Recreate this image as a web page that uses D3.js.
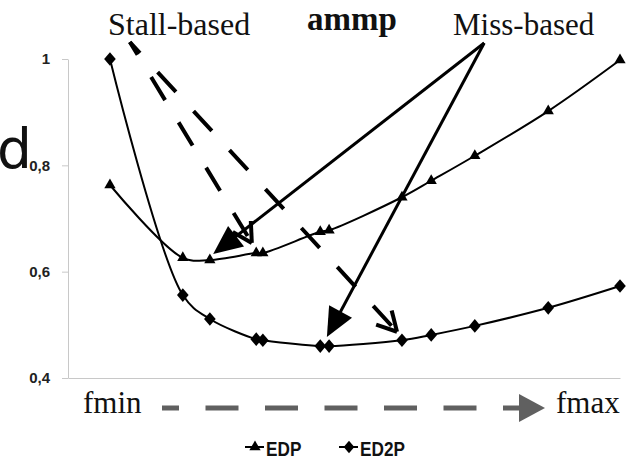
<!DOCTYPE html>
<html><head><meta charset="utf-8">
<script src="https://cdn.jsdelivr.net/npm/d3@7"></script>
<style>html,body{margin:0;padding:0;background:#fff;overflow:hidden}</style>
</head><body>
<svg id="c" width="636" height="459"></svg>
<script>
// ---- data ----
const freq = [0.076, 0.208, 0.257, 0.341, 0.353, 0.457, 0.473, 0.605, 0.658, 0.737, 0.870, 1.0]; // normalized frequency (fmin -> fmax)
const edp  = [0.763, 0.626, 0.622, 0.635, 0.635, 0.675, 0.678, 0.740, 0.771, 0.818, 0.902, 0.998];
const ed2p = [1.000, 0.556, 0.511, 0.473, 0.471, 0.460, 0.460, 0.471, 0.481, 0.498, 0.532, 0.573];
const yTicks = [0.4, 0.6, 0.8, 1];
const seriesNames = ["EDP", "ED2P"];
// annotation anchors in data units [freq, value]
const stallFrom = [0.112, 1.032];
const stallTo = [[0.333, 0.654], [0.596, 0.487]];
const missFrom = [0.754, 1.030];
const missTo = [[0.263, 0.633], [0.469, 0.477]];

const svg = d3.select("#c");
const x = d3.scaleLinear().domain([0, 1]).range([68, 620]);
const y = d3.scaleLinear().domain([0.4, 1]).range([378, 59]);

// big clipped label
svg.append("text").attr("x", -3).attr("y", 168)
  .style("font-family", "DejaVu Sans").style("font-size", "55px").attr("fill", "#111").text("d");

// axes
const ya = svg.append("g").attr("transform", "translate(68,0)")
  .call(d3.axisLeft(y).tickValues(yTicks).tickSize(6).tickSizeOuter(0).tickPadding(12)
    .tickFormat(d => d === 1 ? "1" : d3.format(".1f")(d).replace(".", ",")));
ya.select(".domain").attr("stroke", "#c8c8c8");
ya.selectAll(".tick line").attr("stroke", "#c8c8c8");
ya.selectAll(".tick text").style("font-family", "Liberation Sans, Arial").style("font-weight", "bold")
  .style("font-size", "15px").attr("fill", "#222");
const xa = svg.append("g").attr("transform", "translate(0,378)")
  .call(d3.axisBottom(x).tickValues([]).tickSizeOuter(0));
xa.select(".domain").attr("stroke", "#c8c8c8");

// series lines
const diamond = {draw(ctx, size){ const h = Math.sqrt(size)/1.6, w = h*0.85; ctx.moveTo(0,-h); ctx.lineTo(w,0); ctx.lineTo(0,h); ctx.lineTo(-w,0); ctx.closePath(); }};
const series = [
  {name: seriesNames[0], vals: edp, sym: d3.symbolTriangle, size: 55},
  {name: seriesNames[1], vals: ed2p, sym: diamond, size: 120}
];
const line = d3.line().x(d => x(d[0])).y(d => y(d[1])).curve(d3.curveCatmullRom.alpha(0.5));
series.forEach(s => {
  const pts = freq.map((f, i) => [f, s.vals[i]]);
  svg.append("path").attr("d", line(pts)).attr("fill", "none").attr("stroke", "#000").attr("stroke-width", 2);
  svg.selectAll(null).data(pts).enter().append("path")
    .attr("transform", d => `translate(${x(d[0])},${y(d[1])})`)
    .attr("d", d3.symbol().type(s.sym).size(s.size)).attr("fill", "#000");
});

// annotations
function px(p){ return [x(p[0]), y(p[1])]; }
function openHead(tip, from, len, ang){
  const a = Math.atan2(from[1]-tip[1], from[0]-tip[0]);
  [ang, -ang].forEach(t => {
    svg.append("line").attr("x1", tip[0]).attr("y1", tip[1])
      .attr("x2", tip[0] + len*Math.cos(a+t)).attr("y2", tip[1] + len*Math.sin(a+t))
      .attr("stroke", "#000").attr("stroke-width", 4);
  });
}
function filledHead(tip, from, len, hw, color){
  const a = Math.atan2(from[1]-tip[1], from[0]-tip[0]);
  const bx = tip[0] + len*Math.cos(a), by = tip[1] + len*Math.sin(a);
  const nx = -Math.sin(a)*hw, ny = Math.cos(a)*hw;
  svg.append("path").attr("d", `M${tip[0]},${tip[1]}L${bx+nx},${by+ny}L${bx-nx},${by-ny}Z`).attr("fill", color);
}
const sf = px(stallFrom);
stallTo.forEach(t => {
  const tp = px(t);
  svg.append("line").attr("x1", sf[0]).attr("y1", sf[1]).attr("x2", tp[0]).attr("y2", tp[1])
    .attr("stroke", "#000").attr("stroke-width", 4).attr("stroke-dasharray", "27,26").attr("stroke-dashoffset", 12);
  openHead(tp, sf, 22, 0.5);
});
const mf = px(missFrom);
missTo.forEach(t => {
  const tp = px(t);
  const a = Math.atan2(mf[1]-tp[1], mf[0]-tp[0]);
  svg.append("line").attr("x1", mf[0]).attr("y1", mf[1])
    .attr("x2", tp[0] + 20*Math.cos(a)).attr("y2", tp[1] + 20*Math.sin(a))
    .attr("stroke", "#000").attr("stroke-width", 3);
  filledHead(tp, mf, 29, 13, "#000");
});

// titles
const serif = "Liberation Serif, Times New Roman, serif";
svg.append("text").attr("x", 108).attr("y", 35).style("font-family", serif).style("font-size", "32px").attr("fill", "#111").text("Stall-based");
svg.append("text").attr("x", 307).attr("y", 30).style("font-family", serif).style("font-weight", "bold").style("font-size", "33px").attr("fill", "#111").text("ammp");
svg.append("text").attr("x", 453).attr("y", 35).style("font-family", serif).style("font-size", "31px").attr("fill", "#111").text("Miss-based");

// x direction labels
svg.append("text").attr("x", 83).attr("y", 413).style("font-family", serif).style("font-size", "31px").attr("fill", "#111").text("fmin");
svg.append("text").attr("x", 556).attr("y", 413).style("font-family", serif).style("font-size", "31px").attr("fill", "#111").text("fmax");
svg.append("line").attr("x1", 162).attr("y1", 408).attr("x2", 521).attr("y2", 408)
  .attr("stroke", "#606060").attr("stroke-width", 5).attr("stroke-dasharray", "33,26.5").attr("stroke-dashoffset", 16);
svg.append("path").attr("d", "M519,394L545,408L519,422Z").attr("fill", "#606060");

// legend
const leg = [{x: 245, name: seriesNames[0], sym: d3.symbolTriangle, size: 55}, {x: 339, name: seriesNames[1], sym: diamond, size: 100}];
leg.forEach(l => {
  const g = svg.append("g").attr("transform", `translate(${l.x},0)`);
  g.append("line").attr("x1", 0).attr("x2", 19).attr("y1", 447).attr("y2", 447).attr("stroke", "#000").attr("stroke-width", 2);
  g.append("path").attr("transform", "translate(10,447)").attr("d", d3.symbol().type(l.sym).size(l.size)).attr("fill", "#000");
  g.append("text").attr("transform", "translate(21,455.5) scale(0.86,1)").style("font-family", "Liberation Sans, Arial")
    .style("font-weight", "bold").style("font-size", "20px").attr("fill", "#111").text(l.name);
});
</script>
</body></html>
